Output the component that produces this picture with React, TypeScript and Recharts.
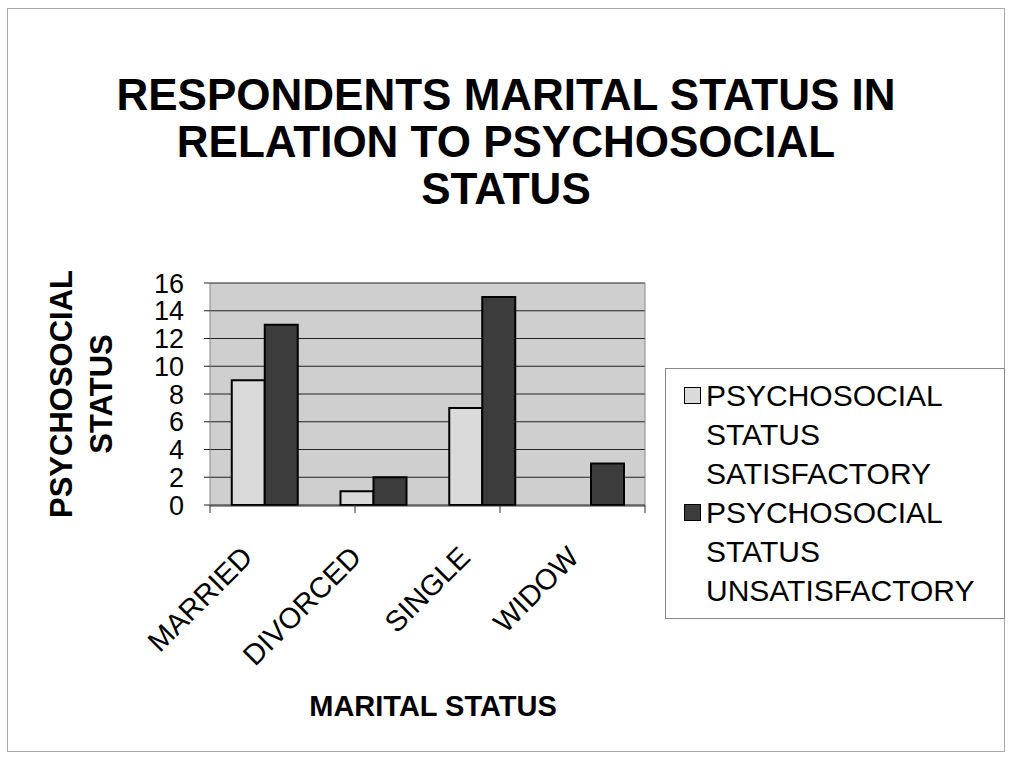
import { Bar, BarChart, CartesianGrid, Legend, XAxis, YAxis } from "recharts";

const categories = ["MARRIED", "DIVORCED", "SINGLE", "WIDOW"];
const satisfactory = [9, 1, 7, 0];
const unsatisfactory = [13, 2, 15, 3];
const yTicks = [0, 2, 4, 6, 8, 10, 12, 14, 16];
const boundaryTicks = [0, 1, 2, 3, 4];

const chartData = categories.map((name, i) => ({
  name,
  satisfactory: satisfactory[i],
  unsatisfactory: unsatisfactory[i],
}));

const FONT = '"Liberation Sans", Arial, sans-serif';

const seriesInfo = [
  { key: "satisfactory", lines: ["PSYCHOSOCIAL", "STATUS", "SATISFACTORY"], fill: "#dadada" },
  { key: "unsatisfactory", lines: ["PSYCHOSOCIAL", "STATUS", "UNSATISFACTORY"], fill: "#3c3c3c" },
];

function RotatedTick(props: any) {
  const { x, y, payload } = props;
  return (
    <g transform={`translate(${x - 10},${y + 53})`}>
      <text
        x={0}
        y={0}
        textAnchor="end"
        transform="rotate(-45)"
        fontSize={29}
        fontFamily={FONT}
        fill="#000"
      >
        {payload.value}
      </text>
    </g>
  );
}

function LegendBox() {
  return (
    <div
      style={{
        border: "1px solid #888",
        padding: "7px 0 8px 20px",
        fontFamily: FONT,
        fontSize: 30,
        lineHeight: "39px",
        color: "#000",
        textAlign: "left",
      }}
    >
      {seriesInfo.map((s) => (
        <div key={s.key} style={{ position: "relative", paddingLeft: 20 }}>
          <span
            style={{
              position: "absolute",
              left: -2,
              top: 11,
              width: 15,
              height: 15,
              background: s.fill,
              border: "1px solid #000",
            }}
          />
          {s.lines.map((l) => (
            <div key={l}>{l}</div>
          ))}
        </div>
      ))}
    </div>
  );
}

export default function App() {
  return (
    <div style={{ position: "absolute", left: 0, top: 0, width: 1010, height: 760, background: "#fff" }}>
      <div
        style={{
          position: "absolute",
          left: 7,
          top: 8,
          width: 996,
          height: 742,
          border: "1px solid #aaa",
        }}
      />
      <div
        style={{
          position: "absolute",
          left: 0,
          top: 71,
          width: 1012,
          textAlign: "center",
          fontFamily: FONT,
          fontWeight: "bold",
          fontSize: 44,
          lineHeight: "47px",
        }}
      >
        <div>RESPONDENTS MARITAL STATUS IN</div>
        <div>RELATION TO PSYCHOSOCIAL</div>
        <div>STATUS</div>
      </div>
      <div
        style={{
          position: "absolute",
          left: 82,
          top: 394,
          transform: "translate(-50%, -50%) rotate(-90deg)",
          fontFamily: FONT,
          fontWeight: "bold",
          fontSize: 31,
          lineHeight: "40px",
          textAlign: "center",
          whiteSpace: "nowrap",
        }}
      >
        <div>PSYCHOSOCIAL</div>
        <div>STATUS</div>
      </div>
      <div
        style={{
          position: "absolute",
          left: 433,
          top: 706,
          transform: "translate(-50%, -50%)",
          fontFamily: FONT,
          fontWeight: "bold",
          fontSize: 29,
          whiteSpace: "nowrap",
        }}
      >
        MARITAL STATUS
      </div>
      <BarChart
        width={1010}
        height={760}
        data={chartData}
        margin={{ top: 283, right: 364, left: 150, bottom: 135 }}
        barCategoryGap="20%"
        barGap={0}
        style={{ position: "absolute", left: 0, top: 0 }}
      >
        <CartesianGrid
          vertical={false}
          fill="#cfcfcf"
          stroke="#222"
          strokeWidth={1.2}
          xAxisId="cat"
          yAxisId="left"
        />
        <XAxis
          xAxisId="bounds"
          type="number"
          domain={[0, 4]}
          allowDataOverflow
          ticks={boundaryTicks}
          tickFormatter={() => ""}
          tickLine={{ stroke: "#333" }}
          tickSize={8}
          axisLine={false}
          height={1}
        />
        <XAxis
          xAxisId="cat"
          dataKey="name"
          interval={0}
          tick={<RotatedTick />}
          tickLine={false}
          tickSize={0}
          tickMargin={0}
          axisLine={{ stroke: "#333" }}
          height={119}
        />
        <YAxis
          yAxisId="left"
          domain={[0, 16]}
          ticks={yTicks}
          interval={0}
          width={60}
          axisLine={{ stroke: "#888" }}
          tickLine={{ stroke: "#222" }}
          tickSize={6}
          tickMargin={20}
          tick={{ fontSize: 27, fontFamily: FONT, fill: "#000" }}
        />
        <YAxis
          yAxisId="right"
          orientation="right"
          domain={[0, 16]}
          width={1}
          tick={false}
          tickLine={false}
          axisLine={{ stroke: "#888" }}
        />
        <Legend
          content={<LegendBox />}
          layout="vertical"
          align="center"
          verticalAlign="middle"
          wrapperStyle={{ position: "absolute", left: 665, top: 368, width: 340 }}
        />
        {seriesInfo.map((s) => (
          <Bar
            key={s.key}
            xAxisId="cat"
            yAxisId="left"
            dataKey={s.key}
            fill={s.fill}
            stroke="#000"
            strokeWidth={2}
            isAnimationActive={false}
          />
        ))}
      </BarChart>
    </div>
  );
}
